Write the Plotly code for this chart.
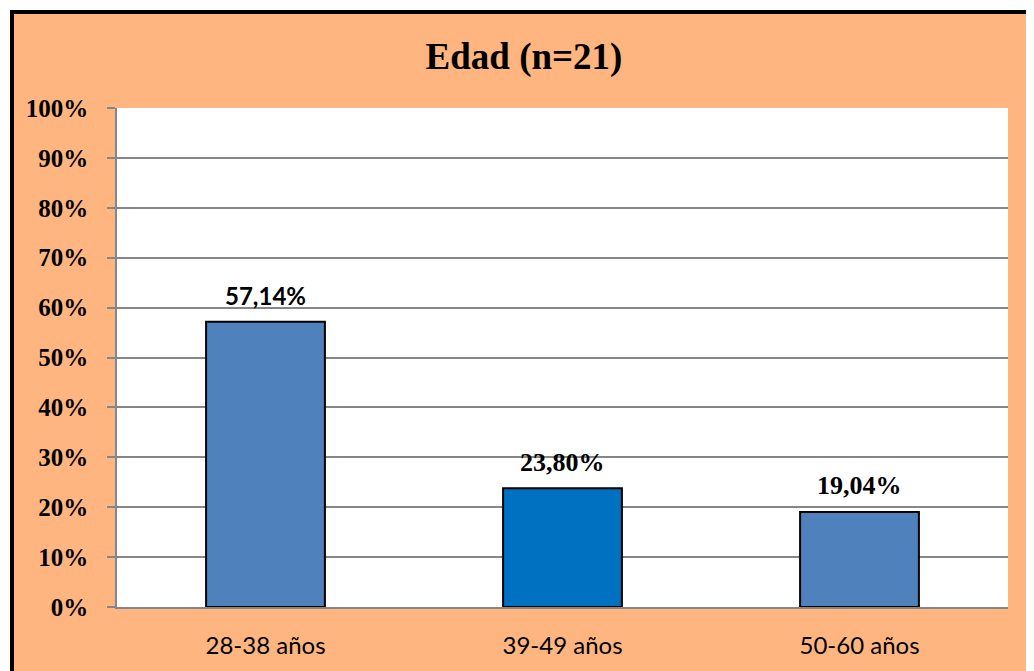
import plotly.graph_objects as go

categories = ['28-38 años', '39-49 años', '50-60 años']
values = [57.14, 23.80, 19.04]
labels = ['57,14%', '23,80%', '19,04%']
bar_colors = ['#4F81BD', '#0070C0', '#4F81BD']
label_fonts = ['Lato', 'Liberation Serif', 'Liberation Serif']
label_sizes = [24, 26, 26]

# the page body adds an 8px margin, so work in screen pixels minus 8
OFF = 8
W, H = 1034, 671 - OFF
L, R, T, B = 117 - OFF, 1008 - OFF, 108 - OFF, 607 - OFF


def px_x(x):
    return (x - OFF - L) / (R - L)


def px_y(y):
    return (B - (y - OFF)) / (B - T)


fig = go.Figure()
fig.add_trace(go.Bar(
    x=categories, y=values,
    marker=dict(color=bar_colors, line=dict(color='black', width=2)),
    width=0.4,
))

for cat, val, txt, fam, sz in zip(categories, values, labels, label_fonts, label_sizes):
    fig.add_annotation(
        x=cat, y=val, text='<b>' + txt + '</b>', showarrow=False,
        yanchor='middle', yshift=26,
        font=dict(family=fam, size=sz, color='black'),
    )

# white outside the chart frame + black border (top / left only visible)
fig.add_shape(type='rect', xref='paper', yref='paper',
              x0=px_x(-20), x1=px_x(10), y0=px_y(700), y1=px_y(-20),
              fillcolor='white', line=dict(width=0), layer='above')
fig.add_shape(type='rect', xref='paper', yref='paper',
              x0=px_x(-20), x1=px_x(1080), y0=px_y(10), y1=px_y(-20),
              fillcolor='white', line=dict(width=0), layer='above')
fig.add_shape(type='line', xref='paper', yref='paper',
              x0=px_x(12), x1=px_x(12), y0=px_y(12), y1=px_y(700),
              line=dict(color='black', width=4), layer='above')
fig.add_shape(type='line', xref='paper', yref='paper',
              x0=px_x(10), x1=px_x(1080), y0=px_y(12), y1=px_y(12),
              line=dict(color='black', width=4), layer='above')

fig.update_layout(
    width=W, height=H,
    margin=dict(l=L, r=W - R, t=T, b=H - B),
    paper_bgcolor='#FFB580',
    plot_bgcolor='white',
    showlegend=False,
    bargap=0.6,
    title=dict(
        text='<b>Edad (n=21)</b>',
        x=(524 - OFF) / W, xanchor='center',
        y=1 - (56 - OFF) / H, yanchor='middle',
        font=dict(family='Liberation Serif', size=37, color='black'),
    ),
)

fig.update_yaxes(
    range=[0, 100], dtick=10, ticksuffix='%',
    showgrid=True, gridcolor='#868686', gridwidth=1.5,
    showline=True, linecolor='#868686', linewidth=1.5,
    ticks='outside', ticklen=8, tickcolor='#868686', tickwidth=1.5,
    ticklabelstandoff=14,
    tickfont=dict(family='Liberation Serif', size=25, color='black', weight='bold'),
    zeroline=False,
)
fig.update_xaxes(
    showline=True, linecolor='#868686', linewidth=2,
    ticks='', ticklabelstandoff=16,
    tickfont=dict(family='Lato', size=24, color='black'),
)

fig.write_html('out.html')
